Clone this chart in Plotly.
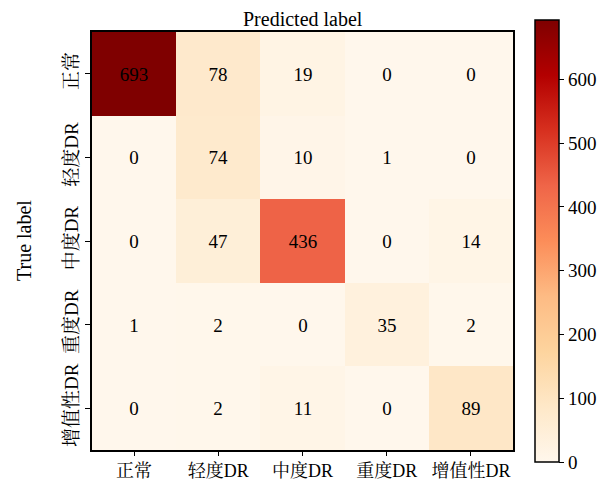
import plotly.graph_objects as go

categories = ["正常", "轻度DR", "中度DR", "重度DR", "增值性DR"]
matrix = [
    [693, 78, 19, 0, 0],
    [0, 74, 10, 1, 0],
    [0, 47, 436, 0, 14],
    [1, 2, 0, 35, 2],
    [0, 2, 11, 0, 89],
]
cbar_ticks = [0, 100, 200, 300, 400, 500, 600]

FONT = "Liberation Serif, Times New Roman, Noto Serif CJK SC, Noto Sans CJK SC, serif"
FS = 19
W, H = 609, 481
L, R, T, B = 92, 513, 32, 450

idx = list(range(len(categories)))
fig = go.Figure(go.Heatmap(
    z=matrix, x=idx, y=idx,
    colorscale="OrRd", zmin=0, zmax=693,
    text=matrix, texttemplate="%{text}",
    textfont=dict(family=FONT, size=FS, color="black"),
    xgap=0, ygap=0,
    colorbar=dict(
        x=(535 - L) / (R - L), xanchor="left", xpad=0,
        y=0.5, yanchor="middle", ypad=0,
        len=(462 - 20) / (B - T), lenmode="fraction",
        thickness=24, outlinewidth=1.5, outlinecolor="black",
        tickvals=cbar_ticks, ticks="outside", ticklen=5, tickwidth=1,
        tickcolor="black",
        tickfont=dict(family=FONT, size=FS, color="black"),
    ),
))

fig.update_xaxes(
    tickvals=idx, ticktext=categories, range=[-0.5, 4.5],
    ticks="outside", ticklen=4, tickcolor="black",
    showline=True, linecolor="black", linewidth=1.5, mirror=True,
    tickfont=dict(family=FONT, size=18, color="black"),
    showgrid=False, zeroline=False, automargin=False,
)
fig.update_yaxes(
    tickvals=idx, ticktext=categories, range=[4.5, -0.5],
    ticks="outside", ticklen=5, tickcolor="black", tickangle=-90,
    showline=True, linecolor="black", linewidth=1.5, mirror=True,
    tickfont=dict(family=FONT, size=FS, color="black"),
    showgrid=False, zeroline=False, automargin=False,
)

fig.add_annotation(text="Predicted label", x=0.5, y=1, xref="paper", yref="paper",
                   yanchor="bottom", yshift=0, showarrow=False,
                   font=dict(family=FONT, size=20, color="black"))
fig.add_annotation(text="True label", x=0, y=0.5, xref="paper", yref="paper",
                   xanchor="right", xshift=-55, textangle=-90, showarrow=False,
                   font=dict(family=FONT, size=20, color="black"))

fig.update_layout(
    width=W, height=H,
    margin=dict(l=L, r=W - R, t=T, b=H - B, autoexpand=False),
    paper_bgcolor="white", plot_bgcolor="white",
)
fig.write_html("out.html", config={"displayModeBar": False},
               post_script="document.body.style.margin='0';document.body.style.overflow='hidden';")
